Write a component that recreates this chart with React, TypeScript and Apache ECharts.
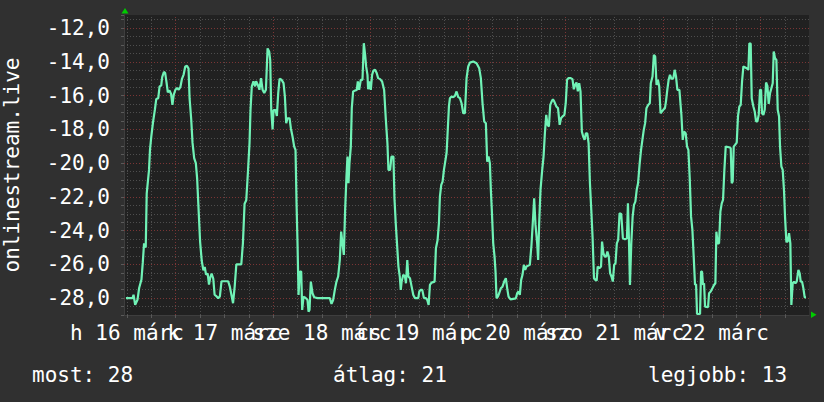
import React, { useEffect, useRef } from "react";
import * as echarts from "echarts";

// Time in hours since márc 16 00:00, and the plotted (negated) rank
const hours = [
  11.75, 13.38, 13.62, 14.02, 14.59, 15.0, 15.57, 15.89, 16.21, 16.62, 16.86, 17.43, 17.67, 18.0, 18.4, 18.89,
  19.21, 19.7, 20.03, 20.43, 20.67, 21.08, 21.4, 21.73, 22.05, 22.46, 22.86, 23.19, 23.51, 23.92, 24.32, 24.73,
  25.14, 25.54, 25.95, 26.35, 26.76, 27.16, 27.41, 27.81, 28.14, 28.54, 28.95, 29.27, 29.6, 30.0, 30.41, 30.81,
  31.14, 31.46, 31.87, 32.19, 32.52, 32.84, 33.25, 33.57, 34.06, 34.46, 34.87, 35.27, 36.08, 36.9, 37.3, 37.71,
  38.11, 38.52, 38.92, 40.14, 40.54, 40.95, 41.36, 41.76, 42.17, 42.41, 42.73, 43.14, 43.55, 43.79, 44.19, 44.6,
  45.0,
  45.38, 45.79, 46.2, 46.61, 47.02, 47.26, 47.51, 47.84, 48.08, 48.57, 48.9, 49.23, 49.56, 50.05, 50.54, 50.87,
  51.2, 51.52, 52.02, 52.34, 52.75, 53.16, 53.49, 53.74, 53.98, 54.23, 54.56, 54.89, 55.13, 55.46, 55.7, 56.03,
  56.44, 56.69, 56.93, 57.26, 57.67, 58.08, 58.9, 59.72, 60.54, 61.36, 61.93, 62.34, 62.75, 63.16, 63.57, 63.98,
  64.39, 64.72, 65.05, 65.38, 65.7, 66.03, 66.28, 66.52, 66.77, 67.1, 67.34, 67.67, 68.16, 68.57, 68.82, 69.15,
  69.56, 69.97, 70.3, 70.62, 70.87, 71.2, 71.36, 71.69, 72.02, 72.34, 72.67, 73.08, 73.49, 73.82, 74.31, 74.8,
  75.3, 75.7, 76.11, 76.36, 76.77, 77.1, 77.59, 77.84, 78.16, 78.49, 78.82, 79.15, 79.39,
  79.61, 80.02, 80.43, 80.67, 81.0, 81.25, 81.66, 82.07, 82.48, 82.89, 83.7, 83.95, 84.28, 84.69, 85.1, 85.59,
  85.92, 86.25, 86.57, 86.98, 87.72, 88.05, 88.46, 88.79, 89.03, 89.36, 89.69, 90.02, 90.34, 90.67, 90.92, 91.25,
  91.49, 91.9, 92.31, 92.72, 93.13, 93.54, 93.95, 94.36, 94.77, 95.18, 95.59, 96.0, 96.41, 97.23, 98.05, 98.7,
  99.11, 99.52, 99.93, 100.34, 100.67, 101.0, 101.33, 101.57, 101.82, 102.15, 102.48, 102.72, 102.97, 103.3, 103.62, 104.03,
  104.44, 104.85, 105.26, 105.59, 105.92, 106.41, 107.72, 108.05, 108.38, 108.7, 109.03, 109.36, 109.69, 110.02, 110.34, 111.16,
  111.57, 111.98, 112.23, 112.56, 112.97, 113.21, 113.46,
  113.79, 114.21, 114.54, 114.87, 115.2, 115.53, 115.86, 116.19, 116.52, 116.85, 117.19, 117.68, 118.1, 118.51, 118.84, 119.17,
  119.67, 120.0, 120.33, 120.66, 121.24, 121.66, 121.99, 122.32, 122.65, 122.98, 123.31, 123.64, 123.97, 124.3, 124.64, 124.97,
  125.3, 125.63, 125.96, 126.29, 126.62, 126.95, 127.28, 127.62, 127.86, 128.28, 128.69, 128.94, 129.27, 129.6, 129.93, 130.26,
  130.6, 130.93, 131.26, 131.59, 131.92, 132.25, 132.58, 132.91, 133.25, 133.66, 134.07, 134.57, 135.07, 135.31, 135.56, 135.81,
  136.14, 136.47, 136.8, 137.14, 137.47, 137.8, 138.21, 138.54, 138.87, 139.21, 139.54, 139.87, 140.28, 140.7, 140.94, 141.36,
  141.69, 142.02, 142.35, 142.68, 143.01, 143.34, 143.68, 144.01, 144.42, 144.67, 145.0, 145.33, 145.66, 146.08, 146.49, 146.82,
  147.15, 147.48, 147.98,
  148.47, 148.8, 149.12, 149.53, 149.86, 150.19, 150.52, 150.85, 151.18, 151.5, 151.83, 152.08, 152.32, 153.06, 153.31, 153.55,
  153.8, 154.05, 154.29, 155.03, 155.28, 155.69, 156.1, 156.51, 156.84, 157.08, 157.41, 157.74, 158.07, 158.4, 158.72, 159.05,
  159.38, 160.2, 160.61, 160.86, 161.1, 161.35, 161.68, 162.09, 162.41, 162.74, 163.07, 163.4, 163.73, 164.55, 164.96, 165.2,
  165.53, 165.78, 166.19, 166.52, 166.85, 167.17, 167.5, 167.83, 168.08, 168.32, 168.65, 168.98, 169.31, 169.64, 169.96, 170.29,
  170.62, 170.95, 171.2, 171.52, 171.85, 172.18, 172.51, 172.75, 173.08, 173.41, 173.74, 173.98, 174.31, 174.64, 174.97, 175.29,
  175.54, 175.87, 176.2, 176.53, 176.86, 177.27, 177.59, 177.84, 178.17, 178.5, 178.82, 179.15,
];

const rank = [
  -28.0, -28.0, -27.8, -28.4, -28.1, -27.4, -26.9, -25.9, -24.75, -25.0, -21.8, -20.4, -19.2, -18.4, -17.6, -16.8,
  -16.2, -16.15, -15.45, -15.4, -14.9, -14.6, -14.65, -15.2, -15.8, -15.7, -15.9, -16.55, -15.95, -15.65, -15.55, -15.65,
  -15.5, -15.0, -14.75, -14.27, -14.23, -14.4, -16.15, -17.4, -18.8, -19.7, -20.0, -20.9, -22.6, -24.65, -25.8, -26.35,
  -26.15, -26.6, -26.55, -27.2, -26.75, -26.55, -26.85, -27.8, -27.9, -28.0, -27.9, -27.0, -27.0, -27.0, -27.3, -27.8,
  -28.3, -27.3, -26.0, -26.0, -24.75, -22.4, -22.2, -20.6, -18.8, -16.85, -15.45, -15.15, -15.45, -15.15, -15.35, -15.65,
  -14.96,
  -15.65, -15.85, -15.65, -13.2, -13.4, -13.9, -16.85, -18.0, -16.85, -16.85, -17.2, -15.85, -15.0, -15.06, -15.26, -16.05,
  -17.63, -17.34, -17.34, -17.93, -18.42, -19.02, -19.21, -22.38, -24.75, -27.81, -26.43, -26.43, -28.7, -27.91, -27.95, -28.0,
  -28.11, -28.8, -28.7, -27.02, -27.71, -27.95, -28.0, -28.0, -28.0, -28.0, -28.0, -28.34, -28.11, -27.51, -27.02, -26.72,
  -25.74, -24.06, -24.75, -25.44, -22.77, -20.79, -19.61, -21.19, -20.0, -19.02, -16.74, -15.75, -15.7, -15.66, -15.16, -15.66,
  -15.06, -15.06, -12.89, -13.58, -14.27, -14.77, -15.62, -15.16, -15.66, -14.77, -14.51, -14.47, -14.67, -14.96, -15.02, -15.16,
  -15.66, -17.34, -18.82, -20.4, -20.4, -19.61, -19.61, -22.08, -23.56, -24.85, -26.13, -26.72, -27.51,
  -27.02, -26.62, -26.72, -27.12, -25.74, -26.72, -26.82, -27.32, -27.81, -28.0, -28.0, -27.61, -27.51, -27.51, -28.0, -28.0,
  -28.11, -28.4, -27.22, -27.08, -27.02, -25.04, -24.55, -23.56, -21.98, -21.29, -21.09, -20.4, -19.91, -19.41, -18.23, -16.64,
  -16.15, -16.05, -16.09, -16.01, -15.75, -16.09, -16.15, -16.45, -17.04, -17.04, -14.96, -14.27, -14.04, -13.98, -14.08, -14.37,
  -14.96, -16.45, -17.53, -17.63, -19.91, -19.61, -20.0, -21.58, -22.87, -24.75, -25.54, -26.43, -28.01, -27.91, -27.71, -27.42,
  -27.32, -27.02, -26.82, -27.42, -27.91, -28.07, -28.01, -27.71, -27.61, -27.81, -26.92, -26.62, -26.03, -26.33, -26.13, -26.03,
  -24.85, -23.17, -22.08, -23.66, -24.75, -25.74, -23.56,
  -21.58, -20.4, -19.61, -18.23, -17.14, -17.73, -17.83, -16.55, -16.35, -16.21, -16.35, -16.64, -16.74, -17.73, -17.34, -17.24,
  -17.14, -16.45, -15.06, -14.96, -14.96, -15.02, -15.62, -15.36, -15.22, -15.75, -15.26, -15.75, -18.13, -18.42, -18.62, -18.23,
  -18.23, -18.82, -21.19, -22.77, -24.45, -26.82, -26.92, -26.96, -26.13, -26.23, -26.13, -24.65, -25.34, -25.54, -25.54, -25.24,
  -25.54, -26.53, -26.72, -27.02, -26.03, -25.93, -24.75, -24.55, -22.97, -23.01, -24.45, -24.51, -24.45, -22.38, -24.55, -27.22,
  -24.75, -23.17, -22.47, -22.28, -21.58, -21.19, -20.0, -19.21, -18.62, -18.03, -17.63, -16.74, -16.55, -16.45, -15.26, -14.87,
  -13.58, -13.68, -15.36, -15.06, -15.46, -17.04, -16.94, -16.84, -16.74, -16.35, -15.66, -15.06, -14.77, -15.02, -14.96, -14.47,
  -14.87, -15.66, -15.66,
  -17.14, -18.62, -18.13, -18.23, -19.02, -19.21, -20.89, -23.17, -23.96, -25.54, -27.22, -27.16, -28.94, -28.94, -26.43, -26.43,
  -27.22, -27.12, -28.5, -28.54, -27.71, -27.61, -27.42, -27.22, -27.12, -24.06, -24.75, -24.75, -22.87, -22.38, -22.18, -20.4,
  -19.02, -19.06, -19.11, -21.19, -21.09, -19.02, -18.92, -18.78, -17.2, -16.64, -16.55, -15.16, -14.27, -14.37, -14.47, -12.89,
  -12.93, -16.15, -16.64, -16.94, -17.53, -17.53, -17.14, -15.66, -15.66, -17.04, -17.14, -16.84, -15.22, -15.42, -16.49, -15.85,
  -15.56, -15.26, -13.38, -13.78, -13.88, -16.84, -17.24, -19.02, -20.2, -20.4, -21.68, -23.17, -24.65, -24.65, -24.15, -24.75,
  -28.4, -27.12, -27.02, -27.12, -27.02, -26.33, -26.53, -27.02, -27.02, -27.42, -27.95, -27.95,
];

const dayLabels = ["h 16 márc", "k 17 márc", "sze 18 márc", "cs 19 márc", "p 20 márc", "szo 21 márc", "v 22 márc"];
const dayLabelHours = [12, 36, 60, 84, 108, 132, 156];
const majorHours = [24, 48, 72, 96, 120, 144, 168];
const minorHours = [12, 18, 30, 36, 42, 54, 60, 66, 78, 84, 90, 102, 108, 114, 126, 132, 138, 150, 156, 162, 174];
const tickHours = [12, 18, 24, 30, 36, 42, 48, 54, 60, 66, 72, 78, 84, 90, 96, 102, 108, 114, 120, 126, 132, 138, 144, 150, 156, 162, 168, 174];
const yLabelValues = [-28, -26, -24, -22, -20, -18, -16, -14, -12];
const yAxisTitle = "onlinestream.live";
const summaryLabels = ["most", "átlag", "legjobb"];
const summaryValues = [28, 21, 13];

const FONT = "DejaVu Sans Mono";
const X_MIN = 11.27;
const X_MAX = 179.88;

const dayLabelFor = (v: number) => {
  const i = dayLabelHours.indexOf(Math.round(v));
  return i >= 0 ? dayLabels[i] : "";
};

export default function App() {
  const ref = useRef<HTMLDivElement>(null);
  useEffect(() => {
    document.body.style.margin = "0";
    const chart = echarts.init(ref.current!, null, { renderer: "svg" });
    const labelStyle = {
      showMinLabel: true,
      showMaxLabel: true,
      hideOverlap: false,
      formatter: dayLabelFor,
      color: "#ffffff",
      fontFamily: FONT,
      fontSize: 21,
      margin: 7,
    };
    const option: any = {
      animation: false,
      backgroundColor: "#303030",
      textStyle: { fontFamily: FONT },
      grid: {
        left: 124,
        top: 15,
        width: 685,
        height: 300,
        containLabel: false,
        outerBoundsMode: "none",
        show: true,
        backgroundColor: "#212121",
        borderWidth: 0,
      },
      xAxis: [
        {
          type: "value",
          position: "bottom",
          offset: 0,
          min: X_MIN,
          max: X_MAX,
          axisLine: { show: true, onZero: false, lineStyle: { color: "#3e3e3e", width: 1 } },
          axisTick: { show: true, customValues: tickHours, length: 3, lineStyle: { color: "#5a5a5a" } },
          axisLabel: { ...labelStyle, customValues: dayLabelHours.filter((_, i) => i % 2 === 0) },
          splitLine: { show: false },
        },
        {
          type: "value",
          position: "bottom",
          offset: 0,
          min: X_MIN,
          max: X_MAX,
          axisLine: { show: false },
          axisTick: { show: false },
          axisLabel: { ...labelStyle, customValues: dayLabelHours.filter((_, i) => i % 2 === 1) },
          splitLine: { show: false },
        },
      ],
      yAxis: {
        type: "value",
        min: -29,
        max: -11.22,
        interval: 0.5,
        name: yAxisTitle,
        nameLocation: "middle",
        nameRotate: 90,
        nameGap: 102,
        nameTextStyle: { color: "#ffffff", fontFamily: FONT, fontSize: 21 },
        axisLine: { show: true, onZero: false, lineStyle: { color: "#3e3e3e", width: 1 } },
        axisTick: { show: true, length: 3, lineStyle: { color: "#5a5a5a" } },
        axisLabel: {
          customValues: yLabelValues,
          showMinLabel: true,
          showMaxLabel: true,
          formatter: (v: number) => v.toFixed(1).replace(".", ","),
          color: "#ffffff",
          fontFamily: FONT,
          fontSize: 21,
          margin: 14,
        },
        splitLine: {
          show: true,
          showMinLine: false,
          showMaxLine: false,
          lineStyle: { color: "#4e4e4e", type: [1, 2], width: 1 },
        },
      },
      series: [
        {
          type: "line",
          data: [],
          silent: true,
          z: 1,
          markLine: {
            silent: true,
            symbol: ["none", "none"],
            label: { show: false },
            emphasis: { disabled: true },
            lineStyle: { color: "#4e4e4e", type: [1, 2], width: 1 },
            data: minorHours.map((h) => ({ xAxis: h })),
          },
        },
        {
          type: "line",
          data: [],
          silent: true,
          z: 2,
          markLine: {
            silent: true,
            symbol: ["none", "none"],
            label: { show: false },
            emphasis: { disabled: true },
            lineStyle: { color: "#7a3535", type: [1, 2], width: 1 },
            data: [
              ...majorHours.map((h) => ({ xAxis: h })),
              ...yLabelValues.map((v) => ({ yAxis: v })),
            ],
          },
        },
        {
          type: "line",
          data: hours.map((h, i) => [h, rank[i]]),
          showSymbol: false,
          symbol: "none",
          silent: true,
          z: 5,
          lineStyle: { color: "#70f2b6", width: 2.2 },
        },
      ],
      graphic: [
        {
          type: "polygon",
          shape: { points: [[121.5, 13.5], [128.5, 13.5], [125, 8]] },
          style: { fill: "#00cc00" },
        },
        {
          type: "polygon",
          shape: { points: [[811, 311.5], [811, 318], [816.5, 314.75]] },
          style: { fill: "#00cc00" },
        },
        {
          type: "text",
          x: 32,
          y: 375,
          style: { text: `${summaryLabels[0]}: ${summaryValues[0]}`, fill: "#ffffff", font: `21px '${FONT}'`, verticalAlign: "middle" },
        },
        {
          type: "text",
          x: 333,
          y: 375,
          style: { text: `${summaryLabels[1]}: ${summaryValues[1]}`, fill: "#ffffff", font: `21px '${FONT}'`, verticalAlign: "middle" },
        },
        {
          type: "text",
          x: 648,
          y: 375,
          style: { text: `${summaryLabels[2]}: ${summaryValues[2]}`, fill: "#ffffff", font: `21px '${FONT}'`, verticalAlign: "middle" },
        },
      ],
    };
    chart.setOption(option);
    return () => chart.dispose();
  }, []);
  return <div ref={ref} style={{ position: "absolute", left: 0, top: 0, width: 824, height: 402 }} />;
}
